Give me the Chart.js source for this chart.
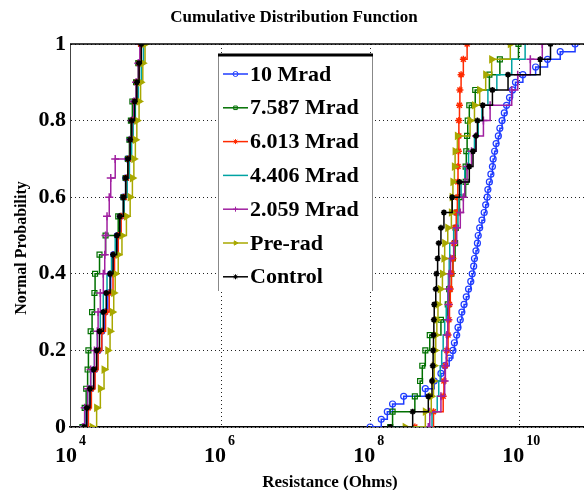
<!DOCTYPE html>
<html>
<head>
<meta charset="utf-8">
<script src="https://cdn.jsdelivr.net/npm/chart.js@4"></script>
<style>
  body { margin: 0; background: #fff; }
  #wrap { width: 584px; height: 490px; }
</style>
</head>
<body>
<div id="wrap"><canvas id="cdfChart" width="584" height="490"></canvas></div>
<script>
// probability levels of the two CDF groups
const pLow = [0, 0.05, 0.1, 0.15, 0.2, 0.25, 0.3, 0.35, 0.4, 0.45, 0.5, 0.55, 0.6, 0.65, 0.7, 0.75, 0.8, 0.85, 0.9, 0.95, 1];
const pHigh = [0, 0.04, 0.08, 0.12, 0.16, 0.2, 0.24, 0.28, 0.32, 0.36, 0.4, 0.44, 0.48, 0.52, 0.56, 0.6, 0.64, 0.68, 0.72, 0.76, 0.8, 0.84, 0.88, 0.92, 0.96, 1];
const pDense = [0, 0.02, 0.04, 0.06, 0.08, 0.1, 0.12, 0.14, 0.16, 0.18, 0.2, 0.22, 0.24, 0.26, 0.28, 0.3, 0.32, 0.34, 0.36, 0.38, 0.4,
  0.42, 0.44, 0.46, 0.48, 0.5, 0.52, 0.54, 0.56, 0.58, 0.6, 0.62, 0.64, 0.66, 0.68, 0.7, 0.72, 0.74, 0.76, 0.78, 0.8,
  0.82, 0.84, 0.86, 0.88, 0.9, 0.92, 0.94, 0.96, 0.98, 1];

const seriesLabels = ['10 Mrad', '7.587 Mrad', '6.013 Mrad', '4.406 Mrad', '2.059 Mrad', 'Pre-rad', 'Control'];

// resistance (Ohms), low group
const mrad10Low = [1.41e4, 1.58e4, 1.78e4, 2.00e4, 2.24e4, 2.51e4, 2.75e4, 3.02e4, 3.31e4, 3.63e4, 4.07e4, 4.47e4, 4.90e4, 5.25e4, 5.62e4, 6.03e4, 6.46e4, 6.92e4, 7.41e4, 7.94e4, 8.51e4];
const mrad7587Low = [1.38e4, 1.48e4, 1.55e4, 1.62e4, 1.66e4, 1.78e4, 1.86e4, 2.00e4, 2.04e4, 2.34e4, 2.82e4, 4.17e4, 4.90e4, 5.25e4, 5.62e4, 5.89e4, 6.17e4, 6.46e4, 7.24e4, 7.76e4, 8.51e4];
const mrad6013Low = [1.48e4, 1.66e4, 1.82e4, 2.04e4, 2.24e4, 2.51e4, 2.82e4, 3.16e4, 3.55e4, 3.72e4, 4.17e4, 4.57e4, 5.01e4, 5.37e4, 5.75e4, 6.17e4, 6.46e4, 6.92e4, 7.41e4, 7.94e4, 8.32e4];
const mrad4406Low = [1.38e4, 1.51e4, 1.62e4, 1.78e4, 2.00e4, 2.19e4, 2.40e4, 2.63e4, 2.95e4, 3.39e4, 3.80e4, 4.37e4, 5.01e4, 5.50e4, 5.89e4, 6.31e4, 6.61e4, 7.08e4, 7.76e4, 8.51e4, 9.12e4];
const mrad2059Low = [1.41e4, 1.48e4, 1.62e4, 1.78e4, 2.00e4, 2.19e4, 2.24e4, 2.40e4, 2.63e4, 2.75e4, 2.82e4, 2.95e4, 3.16e4, 3.31e4, 3.80e4, 6.03e4, 6.31e4, 6.76e4, 7.24e4, 7.76e4, 8.13e4];
const preradLow = [1.86e4, 2.14e4, 2.40e4, 2.69e4, 3.02e4, 3.24e4, 3.47e4, 3.63e4, 3.80e4, 4.17e4, 4.68e4, 5.37e4, 6.03e4, 6.46e4, 6.76e4, 7.08e4, 7.41e4, 7.94e4, 8.32e4, 8.91e4, 9.55e4];
const controlLow = [1.45e4, 1.58e4, 1.74e4, 1.95e4, 2.14e4, 2.34e4, 2.63e4, 2.88e4, 3.24e4, 3.55e4, 3.98e4, 4.37e4, 4.90e4, 5.25e4, 5.62e4, 6.03e4, 6.31e4, 6.92e4, 7.41e4, 7.94e4, 8.51e4];

// resistance (Ohms), high group
const mrad10High = [1.00e8, 1.41e8, 1.70e8, 2.00e8, 2.82e8, 5.50e8, 7.24e8, 8.91e8, 1.00e9, 1.15e9, 1.29e9, 1.35e9, 1.45e9, 1.51e9, 1.62e9, 1.70e9, 1.82e9, 1.95e9, 2.09e9, 2.24e9, 2.34e9,
  2.45e9, 2.51e9, 2.63e9, 2.75e9, 2.82e9, 2.95e9, 3.16e9, 3.39e9, 3.55e9, 3.72e9, 3.80e9, 3.98e9, 4.17e9, 4.37e9, 4.47e9, 4.68e9, 4.90e9, 5.25e9, 5.50e9, 5.89e9,
  6.31e9, 6.76e9, 7.41e9, 8.13e9, 8.91e9, 1.12e10, 1.66e10, 2.40e10, 3.55e10, 5.62e10];
const mrad7587High = [1.86e8, 2.00e8, 3.98e8, 4.68e8, 5.01e8, 5.50e8, 6.31e8, 8.91e8, 1.10e9, 1.15e9, 1.23e9, 1.29e9, 1.38e9, 1.41e9, 1.45e9, 1.58e9, 1.91e9, 1.91e9, 1.95e9, 2.00e9, 2.04e9, 2.14e9, 2.57e9, 3.98e9, 5.50e9, 9.77e9];
const mrad6013High = [3.98e8, 7.08e8, 9.55e8, 9.77e8, 1.02e9, 1.07e9, 1.11e9, 1.14e9, 1.16e9, 1.19e9, 1.23e9, 1.29e9, 1.33e9, 1.38e9, 1.43e9, 1.48e9, 1.50e9, 1.51e9, 1.53e9, 1.55e9, 1.55e9, 1.58e9, 1.60e9, 1.66e9, 1.78e9, 2.00e9];
const mrad4406High = [1.82e8, 6.76e8, 7.94e8, 8.32e8, 8.71e8, 9.12e8, 9.55e8, 1.00e9, 1.05e9, 1.10e9, 1.12e9, 1.15e9, 1.17e9, 1.32e9, 1.51e9, 1.55e9, 1.66e9, 1.86e9, 2.09e9, 2.51e9, 2.82e9, 3.16e9, 3.80e9, 5.01e9, 7.94e9, 1.20e10];
const mrad2059High = [6.03e8, 6.31e8, 8.91e8, 1.00e9, 1.02e9, 1.05e9, 1.07e9, 1.10e9, 1.12e9, 1.12e9, 1.15e9, 1.20e9, 1.32e9, 1.45e9, 1.62e9, 1.78e9, 1.86e9, 2.00e9, 2.29e9, 2.63e9, 3.31e9, 4.07e9, 7.94e9, 9.55e9, 1.41e10, 2.04e10];
const preradHigh = [2.95e8, 5.50e8, 6.61e8, 7.08e8, 7.24e8, 7.41e8, 7.59e8, 7.85e8, 8.13e8, 8.71e8, 9.33e8, 9.77e8, 1.00e9, 1.10e9, 1.23e9, 1.26e9, 1.29e9, 1.35e9, 1.38e9, 1.48e9, 2.19e9, 2.51e9, 2.95e9, 3.55e9, 4.27e9, 7.59e9];
const controlHigh = [1.86e8, 3.72e8, 6.03e8, 6.76e8, 6.92e8, 7.00e8, 7.08e8, 7.16e8, 7.24e8, 7.59e8, 7.76e8, 8.04e8, 8.32e8, 8.91e8, 9.77e8, 1.26e9, 1.58e9, 2.14e9, 2.40e9, 2.63e9, 2.75e9, 3.24e9, 4.37e9, 7.08e9, 1.91e10, 2.63e10];

const xTickValues = [1e4, 1e6, 1e8, 1e10];
const xTickExponents = ['4', '6', '8', '10'];

const FONT = "'Liberation Serif', 'Times New Roman', serif";

function cdfPoints(lowX, lowP, highX, highP) {
  const pts = lowX.map((x, i) => ({ x: x, y: lowP[i] }));
  pts.push({ x: 1e6, y: null });
  highX.forEach((x, i) => pts.push({ x: x, y: highP[i] }));
  return pts;
}

const styles = [
  { color: '#1f3cff', pointStyle: 'circle', radius: 3, fill: 'rgba(0,0,0,0)', pw: 1.2 },
  { color: '#007000', pointStyle: 'rect', radius: 3.5, fill: 'rgba(0,0,0,0)', pw: 1.2 },
  { color: '#ff2a00', pointStyle: 'star', radius: 3.5, fill: '#ff2a00', pw: 1.5 },
  { color: '#00a3a3', pointStyle: 'circle', radius: 0, fill: '#00a3a3', pw: 1 },
  { color: '#a020a0', pointStyle: 'cross', radius: 4, fill: '#a020a0', pw: 1.5 },
  { color: '#a8a800', pointStyle: 'triangle', radius: 3.5, fill: '#a8a800', pw: 1.5, rot: 90 },
  { color: '#000000', pointStyle: 'star', radius: 3, fill: '#000000', pw: 1.6 }
];

const groups = [
  [mrad10Low, pLow, mrad10High, pDense],
  [mrad7587Low, pLow, mrad7587High, pHigh],
  [mrad6013Low, pLow, mrad6013High, pHigh],
  [mrad4406Low, pLow, mrad4406High, pHigh],
  [mrad2059Low, pLow, mrad2059High, pHigh],
  [preradLow, pLow, preradHigh, pHigh],
  [controlLow, pLow, controlHigh, pHigh]
];

const datasets = groups.map((g, i) => ({
  label: seriesLabels[i],
  data: cdfPoints(g[0], g[1], g[2], g[3]),
  borderColor: styles[i].color,
  borderWidth: 1.5,
  stepped: true,
  spanGaps: false,
  pointStyle: styles[i].pointStyle,
  pointRadius: styles[i].radius,
  pointRotation: styles[i].rot || 0,
  pointBorderColor: styles[i].color,
  pointBackgroundColor: styles[i].fill,
  pointBorderWidth: styles[i].pw,
  order: groups.length - i
}));

// text, frame and legend drawn on top
const decorPlugin = {
  id: 'decor',
  afterDraw(chart) {
    const ctx = chart.ctx;
    const area = chart.chartArea;
    const xs = chart.scales.x;
    ctx.save();

    // top frame line
    ctx.strokeStyle = '#000';
    ctx.lineWidth = 1.5;
    ctx.beginPath();
    ctx.moveTo(area.left, area.top);
    ctx.lineTo(area.right, area.top);
    ctx.stroke();

    ctx.fillStyle = '#000';
    // title
    ctx.font = 'bold 17px ' + FONT;
    ctx.textAlign = 'center';
    ctx.textBaseline = 'middle';
    ctx.fillText('Cumulative Distribution Function', 294, 18);

    // x axis title
    ctx.textBaseline = 'alphabetic';
    ctx.font = 'bold 17px ' + FONT;
    ctx.fillText('Resistance (Ohms)', 330, 487);

    // y axis title
    ctx.save();
    ctx.translate(22, 248);
    ctx.rotate(-Math.PI / 2);
    ctx.textBaseline = 'middle';
    ctx.font = 'bold 16px ' + FONT;
    ctx.fillText('Normal Probability', 0, 0);
    ctx.restore();

    // x tick labels 10^n
    ctx.textBaseline = 'alphabetic';
    xTickValues.forEach((v, i) => {
      const px = xs.getPixelForValue(v);
      ctx.font = 'bold 22px ' + FONT;
      ctx.textAlign = 'right';
      ctx.fillText('10', px + 5, 462);
      ctx.font = 'bold 14px ' + FONT;
      ctx.textAlign = 'left';
      ctx.fillText(xTickExponents[i], px + 7, 445);
    });

    // legend box
    const lx = 218, ly = 55, lw = 155, lh = 236;
    ctx.fillStyle = '#fff';
    ctx.fillRect(lx, ly, lw, lh);
    ctx.strokeStyle = '#888';
    ctx.lineWidth = 1;
    ctx.beginPath();
    ctx.moveTo(lx + 0.5, ly);
    ctx.lineTo(lx + 0.5, ly + lh);
    ctx.moveTo(lx + lw - 0.5, ly);
    ctx.lineTo(lx + lw - 0.5, ly + lh);
    ctx.stroke();
    ctx.strokeStyle = '#000';
    ctx.lineWidth = 3;
    ctx.beginPath();
    ctx.moveTo(lx, ly);
    ctx.lineTo(lx + lw, ly);
    ctx.stroke();

    ctx.font = 'bold 22px ' + FONT;
    ctx.textAlign = 'left';
    ctx.textBaseline = 'middle';
    seriesLabels.forEach((label, i) => {
      const cy = 74 + i * 33.8;
      const st = styles[i];
      ctx.strokeStyle = st.color;
      ctx.lineWidth = 1.5;
      ctx.beginPath();
      ctx.moveTo(223, cy);
      ctx.lineTo(248, cy);
      ctx.stroke();
      if (st.radius > 0) {
        ctx.fillStyle = st.fill;
        ctx.lineWidth = 1;
        Chart.helpers.drawPoint(ctx, { pointStyle: st.pointStyle, radius: 2.5, rotation: st.rot || 0, borderWidth: 1 }, 235.5, cy);
      }
      ctx.fillStyle = '#000';
      ctx.fillText(label, 250, cy + 1);
    });

    ctx.restore();
  }
};

new Chart(document.getElementById('cdfChart').getContext('2d'), {
  type: 'line',
  data: { datasets: datasets },
  options: {
    responsive: false,
    animation: false,
    layout: { autoPadding: false, padding: { top: 44, left: 0, right: 0, bottom: 0 } },
    plugins: {
      legend: { display: false },
      tooltip: { enabled: false }
    },
    scales: {
      x: {
        type: 'logarithmic',
        min: 9400,
        max: 7.4e10,
        afterBuildTicks: (scale) => {
          scale.ticks = xTickValues.map(v => ({ value: v }));
        },
        afterFit: (scale) => { scale.height = 63; },
        ticks: { display: false },
        grid: {
          drawTicks: false,
          color: (c) => (c.tick && c.tick.value === 1e4) ? 'rgba(0,0,0,0)' : '#222',
          lineWidth: 1
        },
        border: { display: true, color: '#000', width: 1.5, dash: [1, 3] }
      },
      y: {
        min: 0,
        max: 1,
        afterFit: (scale) => { scale.width = 70; },
        ticks: {
          stepSize: 0.2,
          padding: 4,
          color: '#000',
          font: { family: FONT, size: 22, weight: 'bold' },
          callback: (v) => (v === 0 || v === 1) ? String(v) : v.toFixed(1)
        },
        grid: { drawTicks: false, color: '#222', lineWidth: 1 },
        border: { display: true, color: '#444', width: 1, dash: [1, 3] }
      }
    }
  },
  plugins: [decorPlugin]
});
</script>
</body>
</html>
